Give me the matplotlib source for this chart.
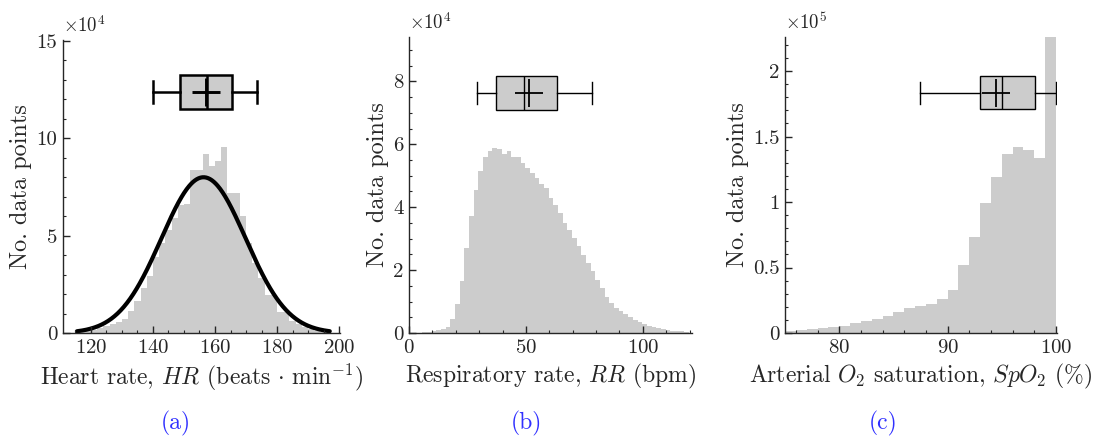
import numpy as np
import matplotlib
matplotlib.use("Agg")
import matplotlib.pyplot as plt
from matplotlib.ticker import MultipleLocator, FuncFormatter

plt.rcParams['font.family'] = 'serif'
plt.rcParams['font.serif'] = ['cmr10', 'DejaVu Serif']
plt.rcParams['mathtext.fontset'] = 'cm'
plt.rcParams['axes.unicode_minus'] = False
plt.rcParams['axes.formatter.use_mathtext'] = True

# ---------------- data ----------------
# (a) heart rate histogram, counts in units of 1e4
hr_edges = [116, 118, 120, 122, 124, 126, 128, 130, 132, 134, 136, 138, 140, 142, 144,
            146, 148, 150, 152, 154, 156, 158, 160, 162, 164, 166, 168, 170, 172, 174,
            176, 178, 180, 182, 184, 186, 188, 190, 192, 194, 196]
hr_counts = [0.05, 0.1, 0.15, 0.25, 0.35, 0.45, 0.55, 0.7, 1.15, 1.65, 2.3, 2.95, 3.9, 4.6,
             5.3, 5.9, 6.6, 6.65, 8.35, 8.35, 9.2, 8.6, 8.85, 9.55, 7.2, 7.2, 6.0, 4.6, 3.6,
             2.8, 1.95, 1.95, 1.1, 1.1, 0.6, 0.45, 0.3, 0.2, 0.1, 0.05]
hr_fit = dict(mu=156.3, sigma=13.6, peak=8.0, lo=115.5, hi=197.0)
hr_box = dict(whislo=139.9, q1=148.7, med=157.5, q3=165.6, whishi=173.4, mean=157.2)

# (b) respiratory rate histogram, counts in units of 1e4
rr_edges = [-0.3 + 2 * k for k in range(61)]
rr_counts = [0.01, 0.01, 0.01, 0.02, 0.04, 0.06, 0.1, 0.14, 0.2, 0.43, 0.92, 1.66, 2.69,
             3.72, 4.54, 5.15, 5.58, 5.78, 5.88, 5.85, 5.7, 5.79, 5.58, 5.58, 5.41, 5.25,
             5.1, 4.93, 4.75, 4.6, 4.3, 4.06, 3.8, 3.5, 3.29, 3.03, 2.77, 2.49, 2.21, 1.96,
             1.68, 1.42, 1.15, 0.96, 0.8, 0.7, 0.59, 0.5, 0.41, 0.35, 0.29, 0.22, 0.18,
             0.15, 0.12, 0.1, 0.07, 0.06, 0.05, 0.04]
rr_box = dict(whislo=29.2, q1=37.0, med=49.3, q3=63.4, whishi=78.3, mean=51.3)

# (c) SpO2 histogram, counts in units of 1e5
sp_edges = list(range(75, 101))
sp_counts = [0.015, 0.023, 0.03, 0.04, 0.048, 0.056, 0.079, 0.089, 0.109, 0.133, 0.163,
             0.19, 0.206, 0.219, 0.263, 0.33, 0.519, 0.735, 0.995, 1.193, 1.364, 1.417,
             1.397, 1.333, 2.6]
sp_box = dict(whislo=87.45, q1=93.04, med=95.06, q3=98.03, whishi=100.0, mean=94.45)

xlabels = [r"Heart rate, $HR$ (beats$\,\cdot\,$min$^{-1}$)",
           r"Respiratory rate, $RR$ (bpm)",
           r"Arterial $O_2$ saturation, $SpO_2$ (%)"]
captions = ["(a)", "(b)", "(c)"]

# ---------------- figure ----------------
W, H = 1094, 437
fig = plt.figure(figsize=(W / 100, H / 100), dpi=100)

def frac(l, r, t, b):
    return [l / W, (H - b) / H, (r - l) / W, (b - t) / H]

axes = [fig.add_axes(frac(63, 340, 40, 333)),
        fig.add_axes(frac(409, 692, 37, 333)),
        fig.add_axes(frac(785, 1057, 37, 333))]

HIST = '#cccccc'
TXT = '#262626'

def style(ax, scale, exp, xmaj, xmin, ymaj, ymin):
    for s in ['top', 'right']:
        ax.spines[s].set_visible(False)
    for s in ['left', 'bottom']:
        ax.spines[s].set_color(TXT)
        ax.spines[s].set_linewidth(1.0)
    ax.xaxis.set_major_locator(MultipleLocator(xmaj))
    ax.xaxis.set_minor_locator(MultipleLocator(xmin))
    ax.yaxis.set_major_locator(MultipleLocator(ymaj * scale))
    ax.yaxis.set_minor_locator(MultipleLocator(ymin * scale))
    ax.yaxis.set_major_formatter(FuncFormatter(lambda v, p: f"{v / scale:g}"))
    ax.tick_params(which='both', direction='in', color=TXT, labelcolor=TXT,
                   labelsize=15, pad=4)
    ax.tick_params(which='major', length=5, width=1.0)
    ax.tick_params(which='minor', length=2.5, width=0.8)
    ax.set_ylabel("No. data points", fontsize=17.5, color=TXT, labelpad=3)
    ax.text(0.0, 1.012, rf"$\times10^{{{exp}}}$", transform=ax.transAxes,
            fontsize=13.5, color=TXT, ha='left', va='bottom')

def draw_box(ax, stats, pos, width, capw, lw):
    st = dict(stats)
    ax.bxp([st], positions=[pos], widths=width, capwidths=[capw],
           orientation='horizontal', patch_artist=True, showmeans=True,
           showfliers=False, manage_ticks=False,
           boxprops=dict(facecolor=HIST, edgecolor='black', linewidth=lw),
           medianprops=dict(color='black', linewidth=lw),
           whiskerprops=dict(color='black', linewidth=lw),
           capprops=dict(color='black', linewidth=lw),
           meanprops=dict(marker='+', markersize=20, markeredgecolor='black',
                          markeredgewidth=lw + 0.3))

# (a)
ax = axes[0]
s = 1e4
ax.stairs(np.array(hr_counts) * s, hr_edges, fill=True, color=HIST, linewidth=0)
xf = np.linspace(hr_fit['lo'], hr_fit['hi'], 400)
yf = hr_fit['peak'] * s * np.exp(-0.5 * ((xf - hr_fit['mu']) / hr_fit['sigma']) ** 2)
ax.plot(xf, yf, color='black', linewidth=3.0, solid_capstyle='round')
draw_box(ax, hr_box, 12.37 * s, 1.76 * s, 1.1 * s, 1.8)
ax.set_xlim(111, 200.3)
ax.set_ylim(0, 15.05 * s)
style(ax, s, 4, 20, 5, 5, 1)

# (b)
ax = axes[1]
ax.stairs(np.array(rr_counts) * s, rr_edges, fill=True, color=HIST, linewidth=0)
draw_box(ax, rr_box, 7.63 * s, 1.05 * s, 0.7 * s, 1.0)
ax.set_xlim(0, 121)
ax.set_ylim(0, 9.41 * s)
style(ax, s, 4, 50, 10, 2, 0.5)

# (c)
ax = axes[2]
s5 = 1e5
ax.stairs(np.array(sp_counts) * s5, sp_edges, fill=True, color=HIST, linewidth=0)
draw_box(ax, sp_box, 1.835 * s5, 0.25 * s5, 0.17 * s5, 1.0)
ax.set_xlim(75, 100.1)
ax.set_ylim(0, 2.26 * s5)
style(ax, s5, 5, 10, 2, 0.5, 0.1)

for ax, xl in zip(axes, xlabels):
    ax.set_xlabel(xl, fontsize=17, color=TXT, labelpad=4)
    ax.set_axisbelow(False)

centers = [176, 526, 883]
for cx, cap in zip(centers, captions):
    fig.text(cx / W, 1 - 423 / H, cap, fontsize=17, color='#3030ff',
             ha='center', va='center')

fig.savefig("out.png", dpi=100)
